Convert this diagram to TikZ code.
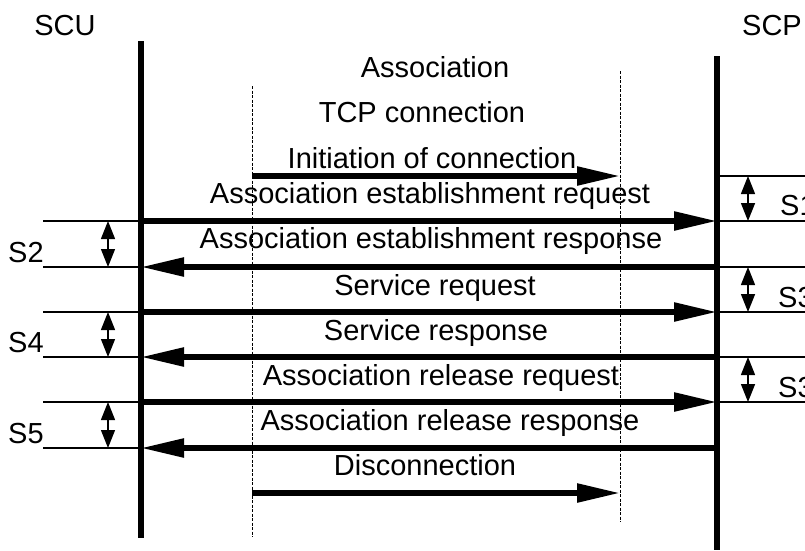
\documentclass[tikz,border=0pt]{standalone}
\usepackage{fontspec}
\setmainfont{Liberation Sans}
\usetikzlibrary{arrows.meta,positioning}
\tikzstyle{life}=[line width=6pt]
\tikzstyle{msg}=[line width=5.5pt,-{Triangle[length=43pt,width=18pt]}]
\tikzstyle{guide}=[line width=1pt,dash pattern=on 3pt off 1.5pt]
\tikzstyle{tick}=[line width=1.4pt]
\tikzstyle{span}=[line width=1.4pt,{Triangle[length=18pt,width=14pt]}-{Triangle[length=18pt,width=14pt]}]
\tikzstyle{lbl}=[inner sep=0pt,anchor=base,font=\fontsize{29}{34}\selectfont]
\tikzstyle{slbl}=[lbl,anchor=base west]

\begin{document}
\begin{tikzpicture}[x=1pt, y=-1pt]
  \useasboundingbox (0,0) rectangle (805,550);

  % entities and lifelines
  \node[lbl] (scu) at (65,35) {SCU};
  \node[lbl] (scp) at (772,35) {SCP};
  \coordinate (scutop) at (141,41);
  \coordinate (scubot) at (141,538);
  \coordinate (scptop) at (717,56);
  \coordinate (scpbot) at (717,550);
  \draw[life] (scutop) -- (scubot);
  \draw[life] (scptop) -- (scpbot);

  % TCP connection
  \coordinate (tcpa) at (252,86);
  \coordinate (tcpb) at (252,537);
  \coordinate (tcpc) at (620,71);
  \coordinate (tcpd) at (620,522);
  \draw[guide] (tcpa) -- (tcpb);
  \draw[guide] (tcpc) -- (tcpd);
  \coordinate (in1) at (252,176);
  \coordinate (in2) at (620,176);
  \coordinate (dc1) at (252,493);
  \coordinate (dc2) at (620,493);

  % message rows
  \foreach \n/\y in {0/176,1/221,2/267,3/312,4/357,5/402,6/448} {
    \coordinate (u\n) at (141,\y);
    \coordinate (p\n) at (717,\y);
    \coordinate (l\n) at (43,\y);
    \coordinate (r\n) at (805,\y);
    \coordinate (la\n) at (108,\y);
    \coordinate (ra\n) at (748,\y);
  }

  \node[lbl] (assoc) at (435,77) {Association};
  \node[lbl] (tcp) at (422,122) {TCP connection};
  \node[lbl] (init) at (432,168) {Initiation of connection};
  \node[lbl] (m1) at (430,203) {Association establishment request};
  \node[lbl] (m2) at (431,248) {Association establishment response};
  \node[lbl] (m3) at (435,295) {Service request};
  \node[lbl] (m4) at (436,340) {Service response};
  \node[lbl] (m5) at (441,385) {Association release request};
  \node[lbl] (m6) at (450,430) {Association release response};
  \node[lbl] (disc) at (425,475) {Disconnection};

  \draw[msg] (in1) -- (in2);
  \draw[msg] (u1) -- (p1);
  \draw[msg] (p2) -- (u2);
  \draw[msg] (u3) -- (p3);
  \draw[msg] (p4) -- (u4);
  \draw[msg] (u5) -- (p5);
  \draw[msg] (p6) -- (u6);
  \draw[msg] (dc1) -- (dc2);

  % SCU side times
  \foreach \n in {1,2,3,4,5,6} \draw[tick] (l\n) -- (u\n);
  \draw[span] (la1) -- (la2);
  \draw[span] (la3) -- (la4);
  \draw[span] (la5) -- (la6);
  \node[slbl] (s2) at (8,262) {S2};
  \node[slbl] (s4) at (8,352) {S4};
  \node[slbl] (s5) at (8,443) {S5};

  % SCP side times
  \foreach \n in {0,1,2,3,4,5} \draw[tick] (p\n) -- (r\n);
  \draw[span] (ra0) -- (ra1);
  \draw[span] (ra2) -- (ra3);
  \draw[span] (ra4) -- (ra5);
  \node[slbl] (s1) at (780,215) {S1};
  \node[slbl] (s3a) at (778,307) {S3};
  \node[slbl] (s3b) at (778,397) {S3};
\end{tikzpicture}
\end{document}
